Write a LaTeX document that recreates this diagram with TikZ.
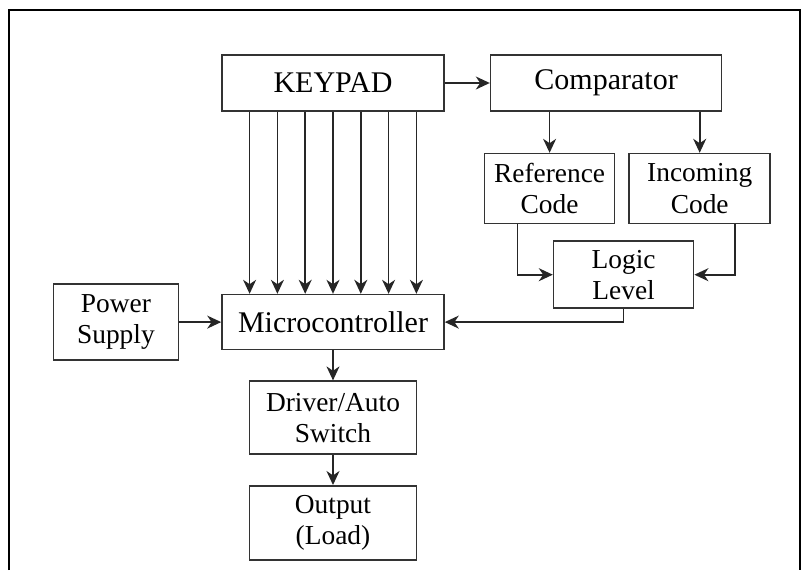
\documentclass[tikz,border=0pt]{standalone}
\usepackage{fontspec}
\setmainfont{Liberation Serif}
\usepackage{tikz}
\usetikzlibrary{positioning,arrows.meta}

\begin{document}
\begin{tikzpicture}[node distance=10pt, auto]
	\tikzset{
		mybox/.style={rectangle, draw=black!80, line width=0.8pt, inner sep=2pt, align=center, font=\fontsize{13.7}{15.6}\selectfont},
		mybig/.style={mybox, font=\fontsize{15}{17}\selectfont},
		myarrow/.style={-{Stealth[length=7pt,width=6.5pt,inset=2.2pt]}, draw=black!85, line width=0.8pt}
	}
	\useasboundingbox (0,0) rectangle (404.5pt,285pt);
	% outer frame
	\draw[line width=1pt] (4.5pt,0) |- (400pt,280pt) -- (400pt,0);

	\node[mybig, minimum width=111pt, minimum height=28pt] (keypad) at (166.5pt,243.5pt) {KEYPAD};
	\node[mybig, right=22.5pt of keypad, minimum width=115.5pt, minimum height=28pt] (comp) {Comparator};
	\node[mybox, below right=20.5pt and -3pt of comp.south west, minimum width=65pt, minimum height=35pt] (refcode) {Reference\\Code};
	\node[mybox, right=6.5pt of refcode, minimum width=70.5pt, minimum height=35pt] (incode) {Incoming\\Code};
	\node[mybox, below right=8pt and 34.5pt of refcode.south west, minimum width=70pt, minimum height=33.5pt] (logic) {Logic\\Level};

	\node[mybig, below=91pt of keypad, minimum width=111pt, minimum height=27.5pt] (micro) {Microcontroller};
	\node[mybox, left=21pt of micro, minimum width=62.5pt, minimum height=38pt] (power) {Power\\Supply};
	\node[mybox, below=15pt of micro, minimum width=83.5pt, minimum height=36.5pt] (driver) {Driver/Auto\\Switch};
	\node[mybox, below=15pt of driver, minimum width=83.5pt, minimum height=37pt] (output) {Output\\(Load)};

	% seven key lines
	\foreach \i in {-3,...,3}
		\draw[myarrow] ([xshift=\i*13.9pt]keypad.south) -- ([xshift=\i*13.9pt]micro.north);

	\draw[myarrow] (keypad) -- (comp);
	\draw[myarrow] (comp.south -| refcode.north) -- (refcode.north);
	\draw[myarrow] (comp.south -| incode.north) -- (incode.north);
	\draw[myarrow] ([xshift=-16pt]refcode.south) |- (logic.west);
	\draw[myarrow] ([xshift=17.5pt]incode.south) |- (logic.east);
	\draw[myarrow] (logic.south) |- (micro.east);

	\draw[myarrow] (power) -- (micro);
	\draw[myarrow] (micro) -- (driver);
	\draw[myarrow] (driver) -- (output);
\end{tikzpicture}
\end{document}
